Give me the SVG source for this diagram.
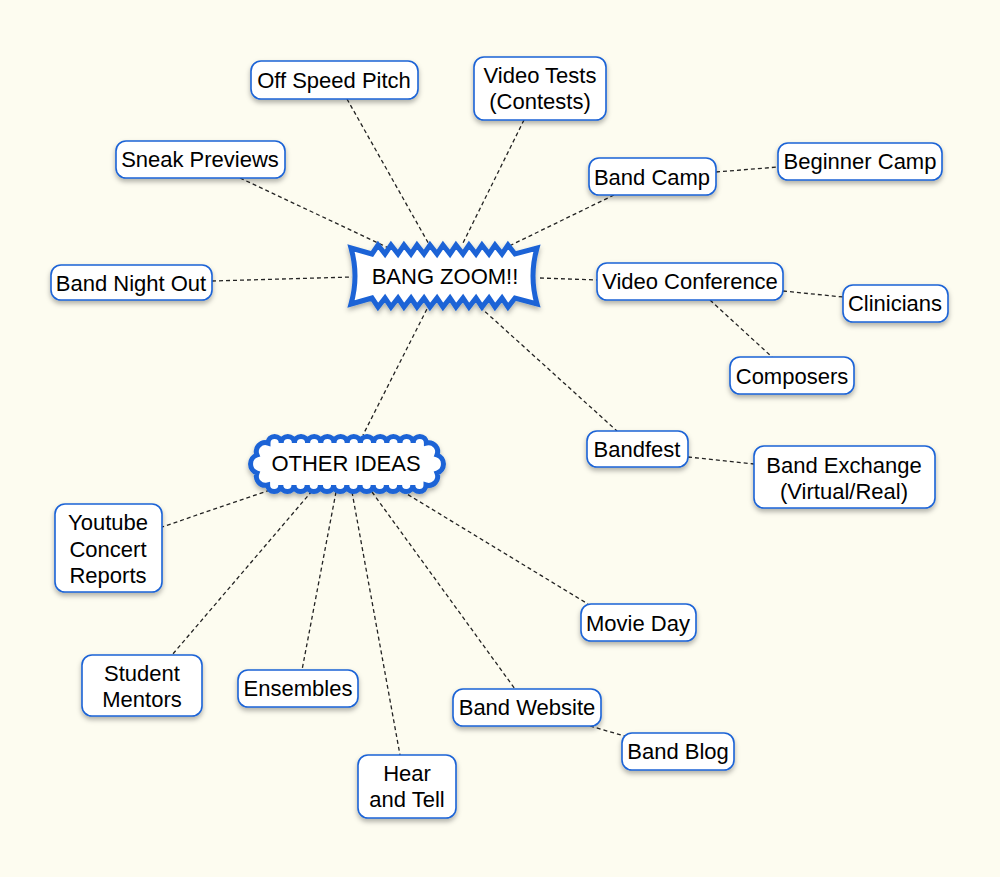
<svg xmlns="http://www.w3.org/2000/svg" width="1000" height="877" viewBox="0 0 1000 877">
<defs>
<filter id="sh" x="-20%" y="-20%" width="140%" height="160%">
<feDropShadow dx="0" dy="3" stdDeviation="2.5" flood-color="#000" flood-opacity="0.3"/>
</filter>
<style>
.n{fill:#fff;stroke:#1b63d6;stroke-width:1.6;filter:url(#sh)}
.big{fill:#fff;stroke:#1b63d6;stroke-width:5;stroke-linejoin:miter;filter:url(#sh)}
.cl{fill:#fff;stroke:#1b63d6;stroke-width:5;filter:url(#sh)}
text{font-family:"Liberation Sans",Arial,sans-serif;font-size:22px;fill:#000;text-anchor:middle}
.c line{stroke:#222;stroke-width:1.3;stroke-dasharray:4 3}
</style>
</defs>
<rect width="1000" height="877" fill="#fdfcf0"/>
<g class="c" id="connectors">
<line x1="347" y1="99" x2="430" y2="246"/>
<line x1="524" y1="120" x2="462" y2="245"/>
<line x1="240" y1="178" x2="393" y2="250"/>
<line x1="614" y1="195" x2="503" y2="249"/>
<line x1="716" y1="172" x2="778" y2="167"/>
<line x1="212" y1="281" x2="352" y2="277"/>
<line x1="540" y1="278" x2="597" y2="280"/>
<line x1="783" y1="291" x2="843" y2="297"/>
<line x1="710" y1="300" x2="772" y2="357"/>
<line x1="480" y1="307" x2="617" y2="431"/>
<line x1="688" y1="457" x2="754" y2="464"/>
<line x1="430" y1="303" x2="363" y2="435"/>
<line x1="270" y1="490" x2="162" y2="527"/>
<line x1="312" y1="491" x2="172" y2="655"/>
<line x1="336" y1="492" x2="302" y2="670"/>
<line x1="352" y1="492" x2="400" y2="755"/>
<line x1="372" y1="492" x2="515" y2="689"/>
<line x1="402" y1="491" x2="588" y2="604"/>
<line x1="590" y1="726" x2="628" y2="737"/>
</g>
<g id="bangzoom">
<path class="big" d="M351,248 L372,254 L378,245 L385,254 L391,245 L398,254 L404,245 L411,254 L417,245 L424,254 L430,245 L437,254 L443,245 L450,254 L456,245 L463,254 L469,245 L476,254 L482,245 L489,254 L495,245 L502,254 L508,245 L515,254 L537,248 Q529,276 537,304 L515,298 L508,307 L502,298 L495,307 L489,298 L482,307 L476,298 L469,307 L463,298 L456,307 L450,298 L443,307 L437,298 L430,307 L424,298 L417,307 L411,298 L404,307 L398,298 L391,307 L385,298 L378,307 L372,298 L351,304 Q359,276 351,248 Z"/>
<text x="445" y="284">BANG ZOOM!!</text>
</g>
<g id="otherideas">
<path class="cl" d="M268,443 a6.6,6.6 0 0,1 13.2,0 a6.6,6.6 0 0,1 13.2,0 a6.6,6.6 0 0,1 13.2,0 a6.6,6.6 0 0,1 13.2,0 a6.6,6.6 0 0,1 13.2,0 a6.6,6.6 0 0,1 13.2,0 a6.6,6.6 0 0,1 13.2,0 a6.6,6.6 0 0,1 13.2,0 a6.6,6.6 0 0,1 13.2,0 a6.6,6.6 0 0,1 13.2,0 a6.6,6.6 0 0,1 13.2,0 a6.6,6.6 0 0,1 13.2,0 A9,9 0 0,1 437,455 A9.5,9.5 0 0,1 437,473 A9,9 0 0,1 426,485 a6.6,6.6 0 0,1 -13.2,0 a6.6,6.6 0 0,1 -13.2,0 a6.6,6.6 0 0,1 -13.2,0 a6.6,6.6 0 0,1 -13.2,0 a6.6,6.6 0 0,1 -13.2,0 a6.6,6.6 0 0,1 -13.2,0 a6.6,6.6 0 0,1 -13.2,0 a6.6,6.6 0 0,1 -13.2,0 a6.6,6.6 0 0,1 -13.2,0 a6.6,6.6 0 0,1 -13.2,0 a6.6,6.6 0 0,1 -13.2,0 a6.6,6.6 0 0,1 -13.2,0 A9,9 0 0,1 257,473 A9.5,9.5 0 0,1 257,455 A9,9 0 0,1 268,443 Z"/>
<text x="346" y="471">OTHER IDEAS</text>
</g>
<g id="offspeed"><rect class="n" x="251" y="61" width="167" height="38" rx="10"/><text x="334" y="88">Off Speed Pitch</text></g>
<g id="videotests"><rect class="n" x="474" y="57" width="132" height="63" rx="10"/><text x="540" y="83">Video Tests</text><text x="540" y="109">(Contests)</text></g>
<g id="sneak"><rect class="n" x="116" y="141" width="169" height="37" rx="10"/><text x="200" y="167">Sneak Previews</text></g>
<g id="bandcamp"><rect class="n" x="589" y="158" width="127" height="37" rx="10"/><text x="652" y="185">Band Camp</text></g>
<g id="beginner"><rect class="n" x="778" y="143" width="164" height="37" rx="10"/><text x="860" y="169">Beginner Camp</text></g>
<g id="nightout"><rect class="n" x="51" y="265" width="161" height="35" rx="10"/><text x="131" y="291">Band Night Out</text></g>
<g id="videoconf"><rect class="n" x="597" y="263" width="186" height="37" rx="10"/><text x="690" y="289">Video Conference</text></g>
<g id="clinicians"><rect class="n" x="843" y="285" width="105" height="37" rx="10"/><text x="895" y="311">Clinicians</text></g>
<g id="composers"><rect class="n" x="730" y="357" width="124" height="37" rx="10"/><text x="792" y="384">Composers</text></g>
<g id="bandfest"><rect class="n" x="587" y="431" width="101" height="36" rx="10"/><text x="637" y="457">Bandfest</text></g>
<g id="exchange"><rect class="n" x="754" y="446" width="181" height="62" rx="10"/><text x="844" y="473">Band Exchange</text><text x="844" y="499">(Virtual/Real)</text></g>
<g id="youtube"><rect class="n" x="55" y="504" width="107" height="88" rx="10"/><text x="108" y="530">Youtube</text><text x="108" y="557">Concert</text><text x="108" y="583">Reports</text></g>
<g id="movieday"><rect class="n" x="581" y="604" width="115" height="37" rx="10"/><text x="638" y="631">Movie Day</text></g>
<g id="mentors"><rect class="n" x="82" y="655" width="120" height="61" rx="10"/><text x="142" y="681">Student</text><text x="142" y="707">Mentors</text></g>
<g id="ensembles"><rect class="n" x="238" y="670" width="120" height="37" rx="10"/><text x="298" y="696">Ensembles</text></g>
<g id="website"><rect class="n" x="453" y="689" width="148" height="37" rx="10"/><text x="527" y="715">Band Website</text></g>
<g id="blog"><rect class="n" x="622" y="733" width="112" height="37" rx="10"/><text x="678" y="759">Band Blog</text></g>
<g id="heartell"><rect class="n" x="358" y="755" width="98" height="63" rx="10"/><text x="407" y="781">Hear</text><text x="407" y="807">and Tell</text></g>
</svg>
